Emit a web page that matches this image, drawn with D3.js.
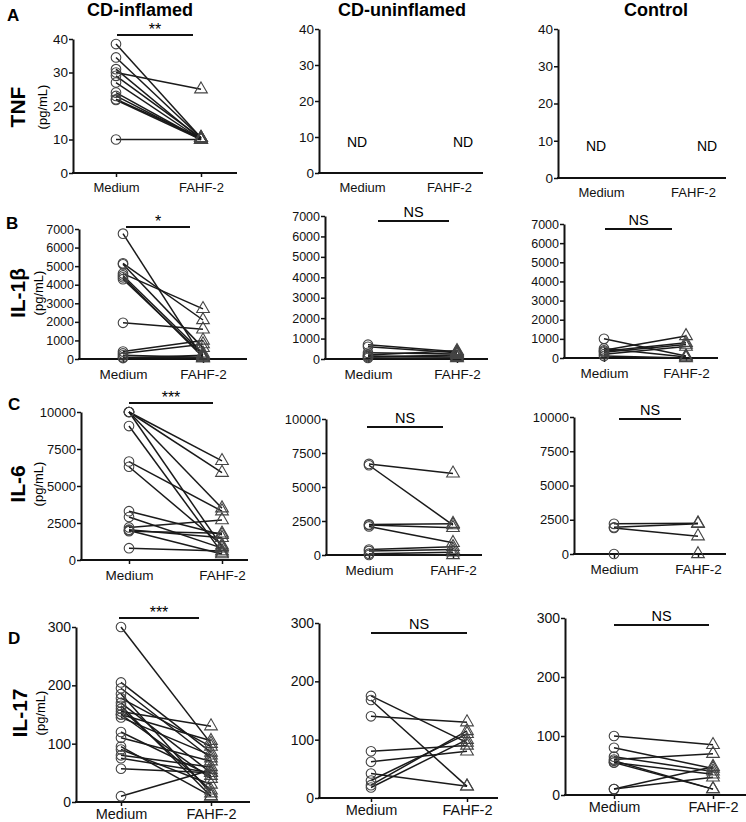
<!DOCTYPE html>
<html><head><meta charset="utf-8">
<script src="https://cdn.jsdelivr.net/npm/d3@7"></script>
<style>body{margin:0;background:#fff}svg{display:block;font-family:"Liberation Sans",Arial,sans-serif}</style>
</head><body>
<svg id="c" width="746" height="822"></svg>
<script>
// ---------- data ----------
const columns = ["CD-inflamed", "CD-uninflamed", "Control"];
const rowLetters = ["A", "B", "C", "D"];
const rowNames = ["TNF", "IL-1β", "IL-6", "IL-17"];
const groups = ["Medium", "FAHF-2"];
const yTicksTNF = [0, 10, 20, 30, 40];
const yTicksIL1b = [0, 1000, 2000, 3000, 4000, 5000, 6000, 7000];
const yTicksIL6 = [0, 2500, 5000, 7500, 10000];
const yTicksIL17 = [0, 100, 200, 300];
const sigLabels = [["**", null, null], ["*", "NS", "NS"], ["***", "NS", "NS"], ["***", "NS", "NS"]];
const ndLabel = "ND";

// paired values: Medium / FAHF-2 (same donor at same index)
const tnfInflamedMedium = [38.5, 34.5, 31, 30, 29, 27, 24, 23, 22, 21.8, 10];
const tnfInflamedFahf   = [10.5, 10.5, 10, 25, 10.5, 10, 10, 10, 10.5, 10, 10];
const tnfUninflamedMedium = [], tnfUninflamedFahf = [];
const tnfControlMedium = [], tnfControlFahf = [];

const il1bInflamedMedium = [6750, 5150, 5100, 4600, 4500, 4400, 4300, 1950, 400, 300, 200, 100, 50];
const il1bInflamedFahf   = [50, 2100, 600, 2700, 300, 100, 200, 1600, 1000, 800, 100, 50, 200];
const il1bUninflamedMedium = [700, 600, 300, 200, 150, 100, 50];
const il1bUninflamedFahf   = [350, 300, 250, 400, 100, 200, 50];
const il1bControlMedium = [1000, 500, 400, 350, 300, 200, 100];
const il1bControlFahf   = [100, 50, 1150, 800, 700, 600, 0];

const il6InflamedMedium = [10000, 10000, 10000, 10000, 9050, 6650, 6300, 3300, 2900, 2200, 2050, 2000, 1950, 800];
const il6InflamedFahf   = [6700, 5900, 3500, 900, 500, 3300, 1000, 1700, 800, 2700, 1500, 400, 1800, 600];
const il6UninflamedMedium = [6700, 6600, 2250, 2200, 2100, 400, 300, 100, 0];
const il6UninflamedFahf   = [6000, 2200, 2300, 2000, 900, 600, 400, 200, 0];
const il6ControlMedium = [2200, 1950, 1900, 0];
const il6ControlFahf   = [2250, 2200, 1300, 0];

const il17InflamedMedium = [300, 205, 195, 185, 178, 170, 165, 160, 155, 150, 150, 145, 120, 110, 95, 90, 80, 75, 57, 10];
const il17InflamedFahf   = [100, 85, 75, 15, 95, 50, 10, 20, 130, 105, 40, 80, 45, 70, 10, 30, 60, 50, 50, 55];
const il17UninflamedMedium = [175, 168, 140, 80, 62, 42, 30, 22, 18];
const il17UninflamedFahf   = [95, 20, 130, 90, 80, 20, 110, 115, 100];
const il17ControlMedium = [100, 80, 65, 60, 58, 55, 55, 10, 10];
const il17ControlFahf   = [85, 45, 40, 70, 10, 35, 10, 48, 30];

const panelData = [
  [[tnfInflamedMedium, tnfInflamedFahf], [tnfUninflamedMedium, tnfUninflamedFahf], [tnfControlMedium, tnfControlFahf]],
  [[il1bInflamedMedium, il1bInflamedFahf], [il1bUninflamedMedium, il1bUninflamedFahf], [il1bControlMedium, il1bControlFahf]],
  [[il6InflamedMedium, il6InflamedFahf], [il6UninflamedMedium, il6UninflamedFahf], [il6ControlMedium, il6ControlFahf]],
  [[il17InflamedMedium, il17InflamedFahf], [il17UninflamedMedium, il17UninflamedFahf], [il17ControlMedium, il17ControlFahf]]
];
const rowTicks = [yTicksTNF, yTicksIL1b, yTicksIL6, yTicksIL17];

// ---------- layout ----------
const layout = [
  [{ax:73,top:39,bot:173,xm:116,xf:201,xe:237,sy:35,s1:117,s2:193},
   {ax:319,top:29,bot:173,xm:362,xf:449,xe:483,nd:true},
   {ax:558,top:29,bot:178,xm:601,xf:693,xe:726,nd:true}],
  [{ax:79,top:229,bot:359,xm:123,xf:203,xe:247,sy:227,s1:126,s2:190},
   {ax:325,top:216,bot:359,xm:368,xf:457,xe:488,sy:221,s1:378,s2:449},
   {ax:564,top:224,bot:358,xm:604,xf:686,xe:718,sy:229,s1:605,s2:672}],
  [{ax:81,top:412,bot:560,xm:129,xf:222,xe:248,sy:403,s1:129,s2:213},
   {ax:326,top:419,bot:555,xm:369,xf:453,xe:482,sy:427,s1:367,s2:443},
   {ax:574,top:417,bot:554,xm:614,xf:698,xe:726,sy:419,s1:619,s2:681}],
  [{ax:76,top:627,bot:802,xm:121,xf:211,xe:250,sy:618,s1:119,s2:199},
   {ax:319,top:623,bot:798,xm:371,xf:467,xe:498,sy:633,s1:371,s2:467},
   {ax:565,top:618,bot:795,xm:614,xf:713,xe:746,sy:625,s1:614,s2:709}]
];
const colTitleX = [140, 402, 656];
const letterPos = [[7,21],[6,229],[8,410],[8,644]];
const rowLabelPos = [[18,107,43],[18,293,39],[18,484,39],[20,713,41]];
const tickFont = [13.5, 12.5, 13, 14];
const catFont = [13, 13.5, 13.5, 14.5];
const catPad = [6, 6, 6, 3];
const ndOffset = [-5, 14];

const svg = d3.select("#c");

// column titles
svg.selectAll("text.ct").data(columns).join("text")
  .attr("x", (d,i)=>colTitleX[i]).attr("y", 16)
  .attr("text-anchor","middle").attr("font-weight","bold").attr("font-size",18)
  .text(d=>d);

rowLetters.forEach((L, r) => {
  svg.append("text").attr("x", letterPos[r][0]).attr("y", letterPos[r][1])
    .attr("font-weight","bold").attr("font-size",17).text(L);
  const [lx, ly, px] = rowLabelPos[r];
  svg.append("text").attr("transform",`translate(${lx+7},${ly}) rotate(-90)`)
    .attr("text-anchor","middle").attr("font-weight","bold").attr("font-size",21).text(rowNames[r]);
  svg.append("text").attr("transform",`translate(${px+4},${ly}) rotate(-90)`)
    .attr("text-anchor","middle").attr("font-size",13).text("(pg/mL)");
});

for (let r = 0; r < 4; r++) {
  for (let c = 0; c < 3; c++) {
    const L = layout[r][c];
    const ticks = rowTicks[r];
    const y = d3.scaleLinear().domain([0, d3.max(ticks)]).range([L.bot, L.top]);
    const x = d3.scalePoint().domain(groups).range([L.xm, L.xf]);
    const g = svg.append("g");

    // y axis
    const yAx = g.append("g").attr("transform",`translate(${L.ax},0)`)
      .call(d3.axisLeft(y).tickValues(ticks).tickSize(4).tickSizeOuter(0).tickFormat(d3.format("d")));
    yAx.select(".domain").attr("stroke","#111").attr("stroke-width",2);
    yAx.selectAll(".tick line").attr("stroke","#111").attr("stroke-width",1.5);
    yAx.selectAll(".tick text").attr("font-size",tickFont[r]).attr("fill","#111")
       .attr("font-family","Liberation Sans, Arial, sans-serif").attr("x",-5);

    // x axis
    const xAx = g.append("g").attr("transform",`translate(0,${L.bot})`)
      .call(d3.axisBottom(x).tickSize(L.nd ? 0 : 4).tickSizeOuter(0).tickPadding(L.nd ? 10 : catPad[r]));
    xAx.select(".domain").remove();
    g.append("line").attr("x1", L.ax-1).attr("x2", L.xe).attr("y1", L.bot).attr("y2", L.bot)
      .attr("stroke","#111").attr("stroke-width",2.2);
    xAx.selectAll(".tick line").attr("stroke","#111").attr("stroke-width",1.5);
    xAx.selectAll(".tick text").attr("font-size",catFont[r]).attr("fill","#111")
      .attr("font-family","Liberation Sans, Arial, sans-serif");

    const [med, fahf] = panelData[r][c];
    if (L.nd) {
      g.selectAll("text.nd").data(groups).join("text")
        .attr("x", (d,i) => x(d) + ndOffset[i]).attr("y", y(10) + 10)
        .attr("text-anchor","middle").attr("font-size",14).text(ndLabel);
      continue;
    }
    const pairs = med.map((v,i)=>({m:v, f:fahf[i]}));
    g.selectAll("line.pair").data(pairs).join("line")
      .attr("x1", x("Medium")).attr("x2", x("FAHF-2"))
      .attr("y1", d=>y(d.m)).attr("y2", d=>y(d.f))
      .attr("stroke","#1a1a1a").attr("stroke-width",1.5);
    g.selectAll("circle.m").data(med).join("circle")
      .attr("cx", x("Medium")).attr("cy", d=>y(d)).attr("r",4.8)
      .attr("fill","none").attr("stroke","#444").attr("stroke-width",1.1);
    const tri = d3.symbol().type(d3.symbolTriangle).size(70);
    g.selectAll("path.f").data(fahf).join("path")
      .attr("transform", d=>`translate(${x("FAHF-2")},${y(d)})`)
      .attr("d", tri).attr("fill","none").attr("stroke","#444").attr("stroke-width",1.1);

    // significance bar
    if (sigLabels[r][c]) {
      g.append("line").attr("x1",L.s1).attr("x2",L.s2).attr("y1",L.sy).attr("y2",L.sy)
        .attr("stroke","#111").attr("stroke-width",2);
      const isNS = sigLabels[r][c] === "NS";
      g.append("text").attr("x",(L.s1+L.s2)/2).attr("y", L.sy - (isNS ? 4 : 0))
        .attr("text-anchor","middle").attr("font-size", isNS ? 14.5 : 16)
        .text(sigLabels[r][c]);
    }
  }
}
</script>
</body></html>
